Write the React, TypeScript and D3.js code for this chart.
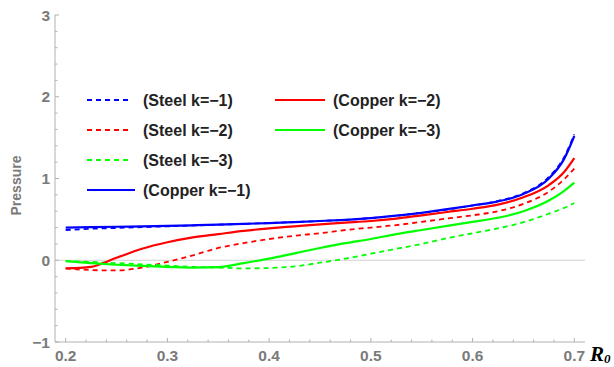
import React from "react";
import * as d3 from "d3";

// R0 sample positions shared by every curve
const r0 = [
  0.2, 0.225, 0.25, 0.275, 0.3, 0.325, 0.35, 0.375, 0.4, 0.425, 0.45, 0.475,
  0.5, 0.525, 0.55, 0.575, 0.6, 0.625, 0.65, 0.675, 0.69, 0.7,
];

const steelK1 = [
  0.37, 0.385, 0.395, 0.405, 0.415, 0.425, 0.435, 0.445, 0.455, 0.467, 0.48,
  0.495, 0.515, 0.545, 0.58, 0.62, 0.67, 0.725, 0.82, 1.02, 1.26, 1.54,
];
const steelK2 = [
  -0.1, -0.12, -0.125, -0.09, -0.02, 0.06, 0.15, 0.21, 0.26, 0.3, 0.33, 0.37,
  0.4, 0.43, 0.47, 0.51, 0.55, 0.6, 0.69, 0.84, 0.99, 1.12,
];
const steelK3 = [
  -0.01, -0.02, -0.035, -0.05, -0.065, -0.08, -0.09, -0.1, -0.095, -0.075,
  -0.03, 0.02, 0.08, 0.14, 0.2, 0.27, 0.33, 0.39, 0.465, 0.57, 0.64, 0.7,
];
const copperK1 = [
  0.4, 0.405, 0.41, 0.415, 0.42, 0.428, 0.436, 0.445, 0.455, 0.467, 0.48,
  0.495, 0.515, 0.545, 0.58, 0.625, 0.67, 0.72, 0.81, 1.0, 1.24, 1.52,
];
const copperK2 = [
  -0.1, -0.08, 0.03, 0.14, 0.22, 0.28, 0.32, 0.36, 0.39, 0.415, 0.44, 0.46,
  0.48, 0.51, 0.55, 0.59, 0.63, 0.68, 0.77, 0.92, 1.08, 1.25,
];
const copperK3 = [
  -0.01, -0.035, -0.055, -0.07, -0.08, -0.09, -0.085, -0.035, 0.02, 0.085, 0.15,
  0.21, 0.26, 0.32, 0.37, 0.42, 0.47, 0.52, 0.6, 0.73, 0.85, 0.95,
];

const seriesLabels = [
  "(Steel k=\u22121)",
  "(Steel k=\u22122)",
  "(Steel k=\u22123)",
  "(Copper k=\u22121)",
  "(Copper k=\u22122)",
  "(Copper k=\u22123)",
];
const seriesValues = [steelK1, steelK2, steelK3, copperK1, copperK2, copperK3];
const seriesColors = ["#0000ff", "#ff0000", "#00ff00", "#0000ff", "#ff0000", "#00ff00"];
const seriesDashed = [true, true, true, false, false, false];

const xTicks = [0.2, 0.3, 0.4, 0.5, 0.6, 0.7];
const yTicks = [-1, 0, 1, 2, 3];

const W = 614;
const H = 367;
const axisColor = "#b0b0b0";
const labelColor = "#7a7a7a";
const font = "'Liberation Sans', Arial, sans-serif";

export default function App() {
  const x = d3.scaleLinear().domain([0.1895, 0.7105]).range([55, 585]);
  const y = d3.scaleLinear().domain([-1, 3]).range([342, 15]);

  const line = d3
    .line<number>()
    .x((_, i) => x(r0[i]))
    .y((d) => y(d))
    .curve(d3.curveMonotoneX);

  const xMinor = d3.range(0.2, 0.7001, 0.02).filter((v) => Math.abs(v * 10 - Math.round(v * 10)) > 1e-6);
  const yMinor = d3.range(-1, 3.0001, 0.2).filter((v) => Math.abs(v - Math.round(v)) > 1e-6);

  // legend positions: first four in column one, rest in column two
  const legendPos = seriesLabels.map((_, i) =>
    i < 4
      ? { lx: 87, ly: 100 + i * 30, len: i < 3 ? 45 : 48, tx: 143 }
      : { lx: 275, ly: 100 + (i - 4) * 30, len: 50, tx: 333 }
  );

  return (
    <svg
      width={W}
      height={H}
      style={{ position: "absolute", left: 0, top: 0, background: "#fff" }}
    >
      {/* zero grid line */}
      <line x1={55} x2={585} y1={y(0)} y2={y(0)} stroke="#d0d0d0" strokeWidth={1} />

      {/* axes */}
      <line x1={55} x2={585} y1={342} y2={342} stroke={axisColor} strokeWidth={1} />
      <line x1={55} x2={55} y1={15} y2={342} stroke={axisColor} strokeWidth={1} />

      {xTicks.map((t) => (
        <g key={"xt" + t}>
          <line x1={x(t)} x2={x(t)} y1={342} y2={338} stroke={axisColor} />
          <text
            x={x(t)}
            y={361}
            textAnchor="middle"
            fontFamily={font}
            fontWeight="bold"
            fontSize={15.5}
            fill={labelColor}
          >
            {t.toFixed(1)}
          </text>
        </g>
      ))}
      {xMinor.map((t) => (
        <line key={"xm" + t} x1={x(t)} x2={x(t)} y1={342} y2={339.5} stroke={axisColor} />
      ))}

      {yTicks.map((t) => (
        <g key={"yt" + t}>
          <line x1={55} x2={59} y1={y(t)} y2={y(t)} stroke={axisColor} />
          <text
            x={50}
            y={y(t)}
            dy="0.36em"
            textAnchor="end"
            fontFamily={font}
            fontWeight="bold"
            fontSize={15.5}
            fill={labelColor}
          >
            {t < 0 ? "\u2212" + Math.abs(t) : t}
          </text>
        </g>
      ))}
      {yMinor.map((t) => (
        <line key={"ym" + t} x1={55} x2={57.5} y1={y(t)} y2={y(t)} stroke={axisColor} />
      ))}

      <text
        transform={`translate(21,${y(1) + 7}) rotate(-90)`}
        textAnchor="middle"
        fontFamily={font}
        fontWeight="bold"
        fontSize={14}
        fill={labelColor}
      >
        Pressure
      </text>

      <text
        x={590}
        y={361}
        fontFamily="'Liberation Serif', 'Times New Roman', serif"
        fontWeight="bold"
        fontStyle="italic"
        fontSize={21}
        fill="#000"
      >
        R
        <tspan fontSize={13} dy={2}>
          0
        </tspan>
      </text>

      {/* curves */}
      {seriesValues.map((vals, i) => (
        <path
          key={"s" + i}
          d={line(vals) || ""}
          fill="none"
          stroke={seriesColors[i]}
          strokeWidth={seriesDashed[i] ? 1.8 : 2.2}
          strokeDasharray={seriesDashed[i] ? "5,4" : undefined}
        />
      ))}

      {/* legend */}
      {seriesLabels.map((lab, i) => {
        const p = legendPos[i];
        return (
          <g key={"lg" + i}>
            <line
              x1={p.lx}
              x2={p.lx + p.len}
              y1={p.ly}
              y2={p.ly}
              stroke={seriesColors[i]}
              strokeWidth={seriesDashed[i] ? 1.8 : 2.2}
              strokeDasharray={seriesDashed[i] ? "5,4" : undefined}
            />
            <text
              x={p.tx}
              y={p.ly}
              dy="0.36em"
              fontFamily={font}
              fontWeight="bold"
              fontSize={16}
              fill="#222"
            >
              {lab}
            </text>
          </g>
        );
      })}
    </svg>
  );
}
